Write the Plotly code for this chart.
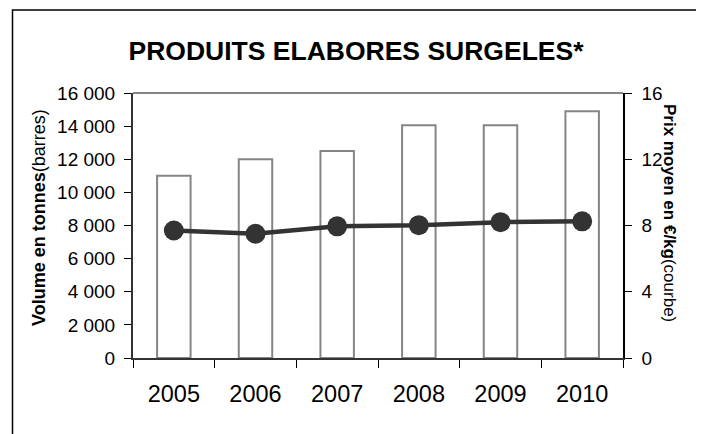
import plotly.graph_objects as go

years = ["2005", "2006", "2007", "2008", "2009", "2010"]
volume_tonnes = [11000, 12000, 12500, 14050, 14050, 14900]
prix_moyen = [7.7, 7.5, 7.95, 8.02, 8.2, 8.25]
left_ticks = [0, 2000, 4000, 6000, 8000, 10000, 12000, 14000, 16000]
left_tick_labels = ["0", "2 000", "4 000", "6 000", "8 000", "10 000", "12 000", "14 000", "16 000"]
right_ticks = [0, 4, 8, 12, 16]

FONT = "Arial, Liberation Sans, sans-serif"
W, H = 704, 434
OFF = 8  # page body margin offset
L, R, T, B = 133 - OFF, 623 - OFF, 93 - OFF, 358 - OFF

fig = go.Figure()
fig.add_trace(go.Bar(
    x=years, y=volume_tonnes, width=0.41,
    marker=dict(color="white", line=dict(color="#858585", width=2)),
    yaxis="y", showlegend=False,
))
fig.add_trace(go.Scatter(
    x=years, y=prix_moyen, mode="lines+markers",
    line=dict(color="#333333", width=4.5),
    marker=dict(color="#333333", size=20),
    yaxis="y2", showlegend=False,
))

def px(x):
    return (x - OFF - L) / (R - L)

def py(y):
    return (B - (y - OFF)) / (B - T)

fig.update_layout(
    width=W, height=H,
    margin=dict(l=L, r=W - R, t=T, b=H - B, pad=0),
    paper_bgcolor="white", plot_bgcolor="white",
    font=dict(family=FONT, color="black", size=19),
    title=dict(text="<b>PRODUITS ELABORES SURGELES*</b>", font=dict(size=26.5, family=FONT),
               x=(356 - OFF) / W, xref="container", xanchor="center",
               y=1 - (51 - OFF) / H, yref="container", yanchor="middle"),
    xaxis=dict(type="category", tickson="boundaries", ticks="outside", ticklen=8,
               tickwidth=1.2, tickcolor="black", showline=True, linecolor="#333333",
               linewidth=2, showgrid=False, ticklabelstandoff=14,
               tickfont=dict(size=23.5)),
    yaxis=dict(range=[0, 16000], tickvals=left_ticks, ticktext=left_tick_labels,
               ticks="outside", ticklen=7, tickcolor="black", tickwidth=1.2,
               showline=True, linecolor="#333333", linewidth=2, showgrid=False,
               zeroline=False, ticklabelstandoff=5, tickfont=dict(size=19)),
    yaxis2=dict(range=[0, 16], tickvals=right_ticks, overlaying="y", side="right",
                ticks="outside", ticklen=7, tickcolor="black", tickwidth=1.2,
                showline=True, linecolor="black", linewidth=1.5, showgrid=False,
                zeroline=False, ticklabelstandoff=6, tickfont=dict(size=19)),
    bargap=0.59,
)

# plot-area top border
fig.add_shape(type="line", xref="paper", yref="paper", x0=0, x1=1, y0=1, y1=1,
              line=dict(color="#858585", width=2))
# chart outer border (open at bottom)
fig.add_shape(type="path", xref="paper", yref="paper",
              path=f"M {px(12.5)} {py(460)} L {px(12.5)} {py(10)} L {px(698)} {py(10)} L {px(698)} {py(460)}",
              line=dict(color="black", width=1.5))

fig.add_annotation(xref="paper", yref="paper", x=px(39), y=py(218),
                   text="<b>Volume en tonnes</b>(barres)", textangle=-90,
                   showarrow=False, font=dict(size=18, family=FONT),
                   xanchor="center", yanchor="middle")
fig.add_annotation(xref="paper", yref="paper", x=px(670), y=py(213),
                   text="<b>Prix moyen en €/kg</b>(courbe)", textangle=90,
                   showarrow=False, font=dict(size=17, family=FONT),
                   xanchor="center", yanchor="middle")

fig.write_html("out.html")
